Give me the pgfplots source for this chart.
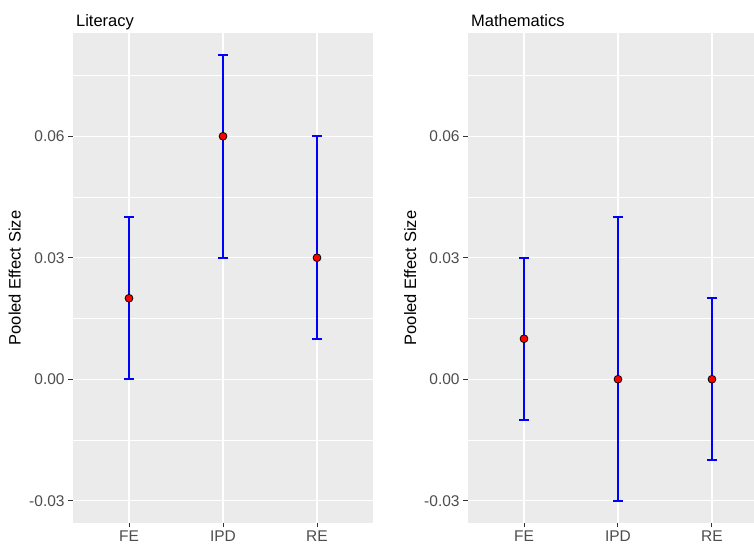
\documentclass[border=0pt]{standalone}
\usepackage{fontspec}
\setmainfont{Liberation Sans}
\usepackage{pgfplots}
\usepackage{pgfplotstable}
\pgfplotsset{compat=1.18}
\definecolor{panelbg}{HTML}{EBEBEB}
\definecolor{ticktxt}{HTML}{4D4D4D}
\definecolor{tickcol}{HTML}{333333}
\pgfplotstableread{
x y ep em
1 0.02 0.02 0.02
2 0.06 0.02 0.03
3 0.03 0.03 0.02
}\lit
\pgfplotstableread{
x y ep em
1 0.01 0.02 0.02
2 0.00 0.04 0.03
3 0.00 0.02 0.02
}\math
\pgfplotsset{ggstyle/.style={
  scale only axis, height=490pt,
  xmin=0.4,
  ymin=-0.0355, ymax=0.0855,
  axis line style={draw=none},
  axis background/.style={fill=panelbg},
  xmajorgrids, ymajorgrids, yminorgrids,
  major grid style={white, line width=1.4pt},
  minor grid style={white, line width=0.7pt},
  ytick={-0.03,0,0.03,0.06},
  minor ytick={-0.015,0.015,0.045,0.075},
  scaled y ticks=false,
  xtick={1,2,3}, xticklabels={FE,IPD,RE},
  tick align=outside, tick pos=left,
  major tick length=4.5pt, minor tick length=0pt,
  every tick/.style={tickcol, line width=1pt},
  tick label style={font=\fontsize{15.5}{18}\selectfont, color=ticktxt},
  yticklabel style={/pgf/number format/fixed, /pgf/number format/fixed zerofill, /pgf/number format/precision=2, /pgf/number format/assume math mode=true},
  every axis title/.style={at={(0,1)}, anchor=base west, yshift=6pt, font=\fontsize{16.5}{19}\selectfont, color=black},
  ylabel={Pooled Effect Size},
}}
\pgfplotsset{ebar/.style={draw=none, mark=none,
  error bars/.cd, y dir=both, y explicit,
  error bar style={draw=blue, line width=1.7pt},
  error mark options={draw=blue, line width=1.7pt, mark size=5pt, rotate=90}}}
\pgfplotsset{pts/.style={only marks, mark=*, mark size=3.9pt, mark options={fill=red, draw=black, line width=0.8pt}}}
\begin{document}
\begin{tikzpicture}[x=1pt,y=1pt]
\path[use as bounding box] (0,0) rectangle (754,548);
\begin{axis}[ggstyle, width=300.8pt, xmax=3.6, at={(72.6pt,25pt)}, anchor=south west,
  title={Literacy},
  every axis y label/.style={at={(axis description cs:-0.192,0.5)}, rotate=90, anchor=center, font=\fontsize{16.5}{19}\selectfont, color=black}]
\addplot[ebar] table[x=x, y=y, y error plus=ep, y error minus=em]{\lit};
\addplot[pts] table[x=x, y=y]{\lit};
\end{axis}
\begin{axis}[ggstyle, width=287.7pt, xmax=3.461, at={(467.6pt,25pt)}, anchor=south west,
  title={Mathematics},
  every axis y label/.style={at={(axis description cs:-0.199,0.5)}, rotate=90, anchor=center, font=\fontsize{16.5}{19}\selectfont, color=black}]
\addplot[ebar] table[x=x, y=y, y error plus=ep, y error minus=em]{\math};
\addplot[pts] table[x=x, y=y]{\math};
\end{axis}
\end{tikzpicture}
\end{document}
